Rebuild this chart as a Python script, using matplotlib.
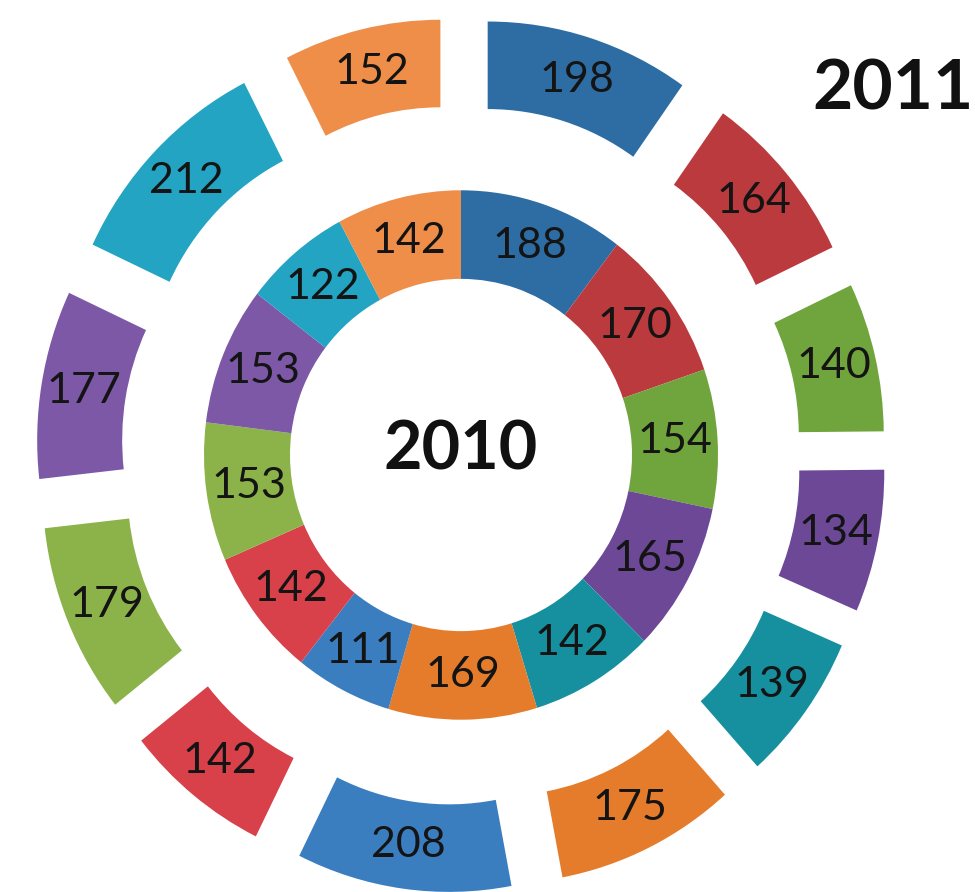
import matplotlib
matplotlib.use("Agg")
import matplotlib.pyplot as plt

# data
values_2010 = [188, 170, 154, 165, 142, 169, 111, 142, 153, 153, 122, 142]
values_2011 = [198, 164, 140, 134, 139, 175, 208, 142, 179, 177, 212, 152]
colors = ["#2E6CA4", "#BA3A3E", "#70A43C", "#6C4896", "#16909F", "#E47C2C",
          "#3A7EC0", "#D8404A", "#8BB34A", "#7C58A6", "#22A4C2", "#EE8E48"]
inner_title = "2010"
outer_title = "2011"

plt.rcParams['font.family'] = ['Lato', 'DejaVu Sans']

W, H = 975, 892
stretch = 1.03
fig = plt.figure(figsize=(W / 100, H / 100), dpi=100)
ax = fig.add_axes([0, 0, 1, 1])

cx, cy = 461, (H - 455) / stretch

# inner ring (2010)
r_in_outer, r_in_hole = 257, 171
w_in = r_in_outer - r_in_hole
wedges, texts = ax.pie(values_2010, colors=colors, radius=r_in_outer, center=(cx, cy),
                       startangle=90, counterclock=False,
                       labels=[str(v) for v in values_2010],
                       labeldistance=(r_in_outer - w_in / 2) / r_in_outer,
                       wedgeprops=dict(width=w_in, linewidth=0), frame=True)
for t in texts:
    t.set_ha('center'); t.set_va('center'); t.set_fontsize(31); t.set_color('#141414')

# outer ring (2011), exploded
R_out, w_out, expl = 337, 85, 88
wedges2, texts2 = ax.pie(values_2011, colors=colors, radius=R_out, center=(cx, cy),
                         startangle=90, counterclock=False,
                         explode=[expl] * len(values_2011),
                         labels=[str(v) for v in values_2011],
                         labeldistance=(R_out - w_out / 2) / R_out,
                         wedgeprops=dict(width=w_out, linewidth=0), frame=True)
for t in texts2:
    t.set_ha('center'); t.set_va('center'); t.set_fontsize(31); t.set_color('#141414')

ax.text(cx, (H - 451) / stretch, inner_title, ha='center', va='center',
        fontsize=48, fontweight='bold', color='#111111')
ax.text(893, (H - 90) / stretch, outer_title, ha='center', va='center',
        fontsize=50, fontweight='bold', color='#111111')

ax.set_aspect('auto')
ax.set_xlim(0, W)
ax.set_ylim(0, H / stretch)
ax.axis('off')
fig.savefig("out.png", dpi=100)
